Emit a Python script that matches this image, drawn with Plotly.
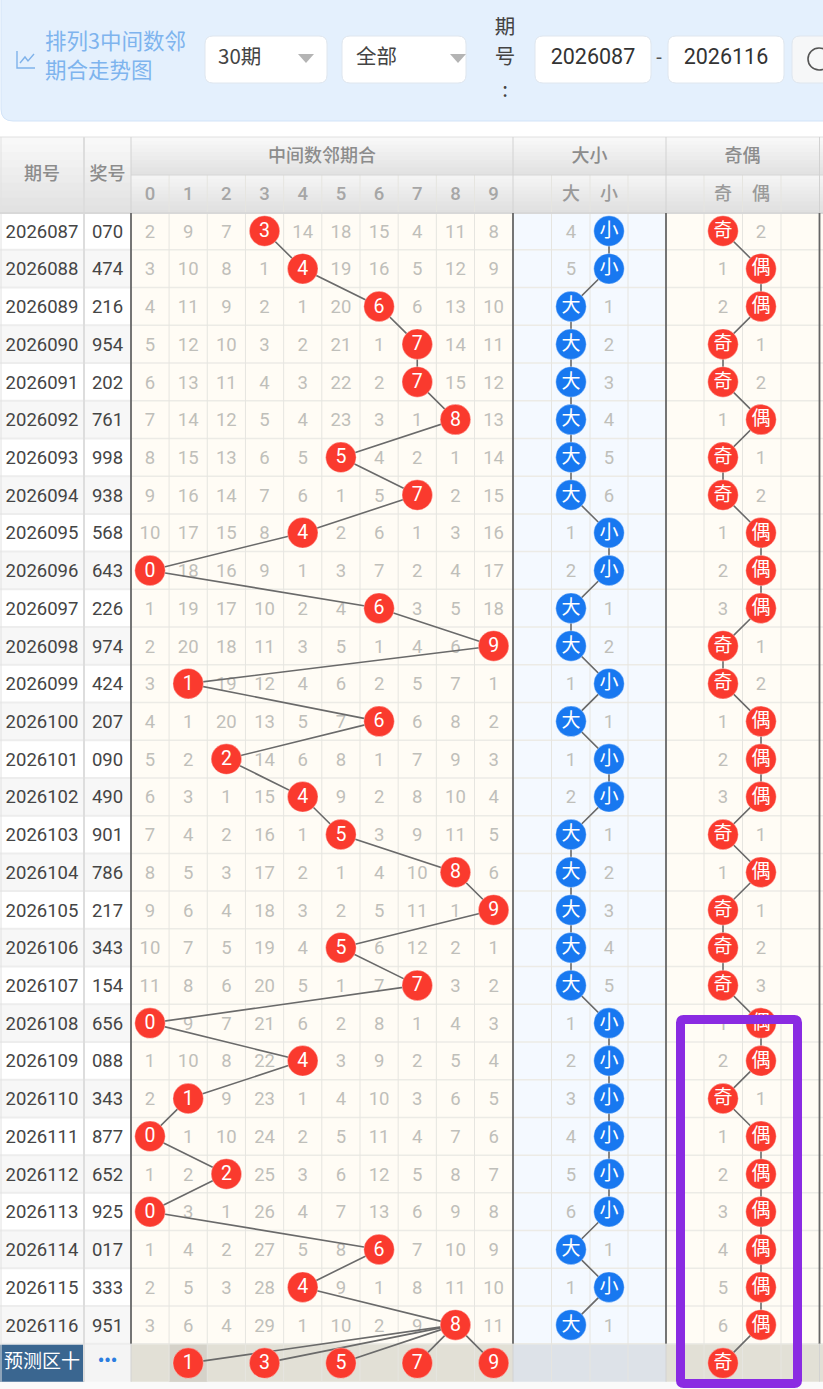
import plotly.graph_objects as go

issues = [str(2026087 + i) for i in range(30)]
prizes = ["070","474","216","954","202","761","998","938","568","643","226","974","424","207","090",
          "490","901","786","217","343","154","656","088","343","877","652","925","017","333","951"]
hit_digit = [3,4,6,7,7,8,5,7,4,0,6,9,1,6,2,4,5,8,9,5,7,0,4,1,0,2,0,6,4,8]
digit_miss = [
 [2,9,7,0,14,18,15,4,11,8],[3,10,8,1,0,19,16,5,12,9],[4,11,9,2,1,20,0,6,13,10],[5,12,10,3,2,21,1,0,14,11],
 [6,13,11,4,3,22,2,0,15,12],[7,14,12,5,4,23,3,1,0,13],[8,15,13,6,5,0,4,2,1,14],[9,16,14,7,6,1,5,0,2,15],
 [10,17,15,8,0,2,6,1,3,16],[0,18,16,9,1,3,7,2,4,17],[1,19,17,10,2,4,0,3,5,18],[2,20,18,11,3,5,1,4,6,0],
 [3,0,19,12,4,6,2,5,7,1],[4,1,20,13,5,7,0,6,8,2],[5,2,0,14,6,8,1,7,9,3],[6,3,1,15,0,9,2,8,10,4],
 [7,4,2,16,1,0,3,9,11,5],[8,5,3,17,2,1,4,10,0,6],[9,6,4,18,3,2,5,11,1,0],[10,7,5,19,4,0,6,12,2,1],
 [11,8,6,20,5,1,7,0,3,2],[0,9,7,21,6,2,8,1,4,3],[1,10,8,22,0,3,9,2,5,4],[2,0,9,23,1,4,10,3,6,5],
 [0,1,10,24,2,5,11,4,7,6],[1,2,0,25,3,6,12,5,8,7],[0,3,1,26,4,7,13,6,9,8],[1,4,2,27,5,8,0,7,10,9],
 [2,5,3,28,0,9,1,8,11,10],[3,6,4,29,1,10,2,9,0,11]]
big_small = list("小小大大大大大大小小大大小大小小大大大大大小小小小小小大小大")
big_small_miss = [4,5,1,2,3,4,5,6,1,2,1,2,1,1,1,2,1,2,3,4,5,1,2,3,4,5,6,1,1,1]
odd_even = list("奇偶偶奇奇偶奇奇偶偶偶奇奇偶偶偶奇偶奇奇奇偶偶奇偶偶偶偶偶偶")
odd_even_miss = [2,1,2,1,2,1,1,2,1,2,3,1,2,1,2,3,1,1,1,2,3,1,2,1,1,2,3,4,5,6]
predict_digits = [1,3,5,7,9]
predict_odd_even = "奇"

CJK = "Noto Sans CJK SC"
NUM = "Roboto"
RED, BLUE = "#fa3a2e", "#1878f0"
W, H = 823, 1389
Y0, RH = 231.0, 37.72
CW = 38.18
TXT = 2.0  # text baseline nudge
def ry(r): return Y0 + RH * r
def dx(d): return 150 + CW * d
BS_X = {"大": 571, "小": 609}
OE_X = {"奇": 723, "偶": 761}
N = len(issues)
YT, YB = 213, ry(N - 1) + RH / 2
YP = ry(N) + 0.5

shapes = []
def rect(x0, y0, x1, y1, fill, line=None, lw=1, layer="below"):
    shapes.append(dict(type="rect", x0=x0, y0=y0, x1=x1, y1=y1, fillcolor=fill, layer=layer,
                       line=dict(color=line or fill, width=lw if line else 0)))
def hline(x0, x1, y, c, w=1):
    shapes.append(dict(type="line", x0=x0, x1=x1, y0=y, y1=y, layer="below", line=dict(color=c, width=w)))
def vline(x, y0, y1, c, w=1):
    shapes.append(dict(type="line", x0=x, x1=x, y0=y0, y1=y1, layer="below", line=dict(color=c, width=w)))
def rrect(x0, y0, x1, y1, r, fill, line, lw=1, layer="below"):
    p = (f"M{x0+r},{y0} L{x1-r},{y0} Q{x1},{y0} {x1},{y0+r} L{x1},{y1-r} Q{x1},{y1} {x1-r},{y1} "
         f"L{x0+r},{y1} Q{x0},{y1} {x0},{y1-r} L{x0},{y0+r} Q{x0},{y0} {x0+r},{y0} Z")
    shapes.append(dict(type="path", path=p, fillcolor=fill, layer=layer, line=dict(color=line, width=lw)))
def grad(x0, y0, x1, y1, top=(248,248,248), bot=(226,226,226), n=10):
    for i in range(n):
        t = i / (n - 1)
        c = tuple(round(top[k] + (bot[k] - top[k]) * t) for k in range(3))
        rect(x0, y0 + (y1 - y0) * i / n, x1, y0 + (y1 - y0) * (i + 1) / n + 0.5, f"rgb{c}")

# top panel
rrect(1, -20, 840, 121, 12, "#e4f0fd", "#d3e4f8", 1)
for a, b, r in [(205, 327, 8), (342, 466, 8), (535, 651, 8), (668, 784, 8)]:
    rrect(a, 36, b, 83, r, "#ffffff", "#dfe6ee", 1)
rrect(792, 36, 860, 83, 8, "#f6f7f8", "#dfe6ee", 1)
shapes.append(dict(type="circle", x0=808, x1=830, y0=48, y1=70, layer="below", line=dict(color="#555555", width=1.6)))
for cx in (306, 458):
    shapes.append(dict(type="path", path=f"M{cx-8},54 L{cx+8},54 L{cx},63 Z", fillcolor="#b4b4b4", line=dict(width=0), layer="below"))
shapes.append(dict(type="path", path="M17,51 L17,68 L35,68 M20,63 L25,57 L28,61 L34,54", layer="below",
                   line=dict(color="#7fb2ea", width=1.4)))

# table header
rect(0, 137, W, 213, "#eeeeee")
grad(0, 137, 131, 213)
grad(131, 137, W, 175)
grad(131, 175, W, 213, (244,244,244), (224,224,224))

# body backgrounds
rect(0, YT, 84, YB, "#ffffff")
rect(84, YT, 131, YB, "#ffffff")
for r in range(1, N, 2):
    rect(0, ry(r) - RH / 2, 131, ry(r) + RH / 2, "#f7f7f7")
rect(131, YT, 513, YB, "#fffcf5")
rect(513, YT, 666, YB, "#f4f9ff")
rect(666, YT, W, YB, "#fffcf5")
# prediction row
rect(0, YB, W, 1389, "#fafafa")
rect(0, YB, 84, YB + 38, "#3a6690")
rect(84, YB, 131, YB + 38, "#f4f4f4")
rect(131, YB, 513, YB + 38, "#e2e0d6")
rect(dx(1) - CW / 2, YB, dx(1) + CW / 2, YB + 38, "#d5d2c9")
rect(513, YB, 666, YB + 38, "#dde2e8")
rect(666, YB, W, YB + 38, "#e2e0d6")

# grid
for r in range(N):
    y = ry(r) + RH / 2
    hline(0, 131, y, "#ededed", 2)
    hline(131, W, y, "#ecebe6", 1.5)
cols = [dx(d) - CW / 2 for d in range(1, 10)] + [551.5, 590, 628, 704, 742.5, 781]
for x in cols:
    vline(x, 175, YB + 38, "#e6e5e0", 1)
vline(84, 137, YB + 38, "#dddddd", 2)
vline(1, 137, YB + 38, "#e2e2e2", 1)
hline(131, W, 175, "#d6d6d6", 1)
hline(0, W, 137, "#e0e0e0", 1)
hline(0, W, 213, "#d8d8d8", 2)
for x in (131, 513, 666, 819.5):
    vline(x, YT, YB, "#666666", 1.8)
    vline(x, 137, YT, "#d2d2d2", 1)
    vline(x, YB, YB + 38, "#d2d2d2", 1)

# purple frame
rrect(680.5, 1019.5, 797.5, 1383.5, 3, "rgba(0,0,0,0)", "#8a2be2", 9, layer="above")

fig = go.Figure()
LINE = dict(color="#6a6a6a", width=1.6)
def path(xs, ys):
    fig.add_trace(go.Scatter(x=xs, y=ys, mode="lines", line=LINE, hoverinfo="skip"))
def text(xs, ys, t, size, color, family=NUM, pos="middle center", weight="normal", nudge=TXT):
    fig.add_trace(go.Scatter(x=xs, y=[v + nudge for v in ys], text=t, mode="text", textposition=pos, hoverinfo="skip",
                             textfont=dict(size=size, color=color, family=family, weight=weight)))

# miss numbers come first, the trend lines run over them
mx, my, mt = [], [], []
for r, row in enumerate(digit_miss):
    for d, v in enumerate(row):
        if d != hit_digit[r]:
            mx.append(dx(d)); my.append(ry(r)); mt.append(str(v))
for r in range(N):
    mx.append(BS_X["小" if big_small[r] == "大" else "大"]); my.append(ry(r)); mt.append(str(big_small_miss[r]))
    mx.append(OE_X["偶" if odd_even[r] == "奇" else "奇"]); my.append(ry(r)); mt.append(str(odd_even_miss[r]))
text(mx, my, mt, 18.5, "#bfbfba")

path([dx(d) for d in hit_digit], [ry(r) for r in range(N)])
for d in predict_digits:
    path([dx(hit_digit[-1]), dx(d)], [ry(N - 1), YP])
path([BS_X[v] for v in big_small], [ry(r) for r in range(N)])
path([OE_X[v] for v in odd_even] + [OE_X[predict_odd_even]], [ry(r) for r in range(N)] + [YP])

def balls(xs, ys, t, color, size, family, nudge):
    fig.add_trace(go.Scatter(x=xs, y=ys, mode="markers", hoverinfo="skip",
                             marker=dict(size=30.5, color=color, line=dict(color="rgba(255,255,255,0.35)", width=1))))
    text(xs, ys, t, size, "#ffffff", family, nudge=nudge)
balls([dx(d) for d in hit_digit] + [dx(d) for d in predict_digits],
      [ry(r) for r in range(N)] + [YP] * len(predict_digits),
      [str(d) for d in hit_digit] + [str(d) for d in predict_digits], RED, 19.5, NUM, 1.2)
balls([BS_X[v] for v in big_small], [ry(r) for r in range(N)], big_small, BLUE, 19, CJK, 1.0)
balls([OE_X[v] for v in odd_even] + [OE_X[predict_odd_even]], [ry(r) for r in range(N)] + [YP],
      odd_even + [predict_odd_even], RED, 19, CJK, 1.0)

# left columns
text([42] * N, [ry(r) for r in range(N)], issues, 18.5, "#454545")
text([107.5] * N, [ry(r) for r in range(N)], prizes, 18.5, "#454545")
text([42], [YP], ["预测区十"], 19, "#ffffff", CJK, nudge=0.5)
text([107.5], [YP - 1], ["•••"], 18, "#2b7de0", NUM, weight="bold", nudge=0)

# table headers
text([42, 107.5], [173, 173], ["期号", "奖号"], 18, "#8c8c8c", CJK, weight=500)
text([322, 589.5, 742.5], [155, 155, 155], ["中间数邻期合", "大小", "奇偶"], 18, "#8c8c8c", CJK, weight=500)
text([dx(d) for d in range(10)], [193.5] * 10, [str(d) for d in range(10)], 18.5, "#a6a6a6", NUM, weight=500)
text([571, 609, 723, 761], [193.5] * 4, ["大", "小", "奇", "偶"], 18, "#9a9a9a", CJK, weight=500)

# top panel text
text([45, 45], [42, 71], ["排列3中间数邻", "期合走势图"], 21.5, "#7eb4ee", CJK, "middle right")
text([218, 356], [57, 57], ["30期", "全部"], 20.5, "#444444", CJK, "middle right")
text([505, 505, 505], [27, 57, 90], ["期", "号", ":"], 20.5, "#444444", CJK)
text([593, 726], [56.5, 56.5], ["2026087", "2026116"], 21.5, "#333333", NUM)
text([659], [57], ["-"], 20, "#555555", NUM)

fig.update_layout(width=W, height=H, margin=dict(l=0, r=0, t=0, b=0), showlegend=False,
                  paper_bgcolor="#ffffff", plot_bgcolor="#ffffff", hovermode=False, shapes=shapes,
                  xaxis=dict(range=[0, W], visible=False, fixedrange=True),
                  yaxis=dict(range=[H, 0], visible=False, fixedrange=True))
fig.write_html("out.html", config={"displayModeBar": False},
               post_script="document.body.style.margin='0';document.body.style.overflow='hidden';")
